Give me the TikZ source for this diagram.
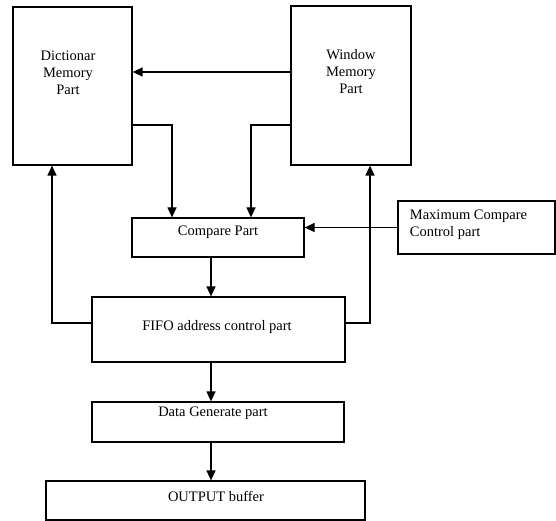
\documentclass[tikz,border=0pt]{standalone}
\usepackage{fontspec}
\setmainfont{Liberation Serif}
\usepackage{tikz}
\usetikzlibrary{arrows.meta, positioning, calc}
\tikzset{
  lbl/.style={font=\fontsize{14.5}{17}\selectfont, align=center, inner sep=0pt},
  blk/.style={draw, line width=1.2pt, rectangle, inner sep=0pt, minimum width=#1},
  flow/.style={-{Triangle[length=10pt, width=9pt]}, line width=1.2pt},
}
\begin{document}
\begin{tikzpicture}[x=1pt, y=-1pt]
  \useasboundingbox (0,0) rectangle (556,521);
  % memory blocks
  \node[blk=119pt, minimum height=158pt, label={[lbl, xshift=-4.5pt, yshift=13pt]center:{Dictionar\\Memory\\Part}}] (dict) at (72.5,86) {};
  \node[blk=120pt, minimum height=159pt, label={[lbl, yshift=13.5pt]center:{Window\\Memory\\Part}}] (win) at (351,85.5) {};
  % compare stage
  \node[blk=172pt, minimum height=39pt, label={[lbl, yshift=5.5pt]center:Compare Part}] (cmp) at (218,237.5) {};
  \node[blk=157pt, minimum height=53pt, label={[lbl, align=left, xshift=-8pt, yshift=3pt]center:{Maximum Compare\\Control part}}] (maxc) at (476.5,227.5) {};
  % output chain
  \node[blk=253pt, minimum height=65pt, label={[lbl, xshift=-1.5pt, yshift=2.5pt]center:FIFO address control part}] (fifo) at (218.5,329.5) {};
  \node[blk=252pt, minimum height=40pt, label={[lbl, xshift=-5pt, yshift=9pt]center:Data Generate part}] (dgen) at (218,422) {};
  \node[blk=319pt, minimum height=39pt, label={[lbl, xshift=10.5pt, yshift=4.5pt]center:OUTPUT buffer}] (obuf) at (205.5,500.5) {};
  % connectors
  \draw[flow] ([yshift=13.5pt]win.west) -- ([yshift=13.5pt]win.west -| dict.east);
  \draw[flow] ([yshift=-39pt]dict.east) -| ([xshift=-46pt]cmp.north);
  \draw[flow] ([yshift=-39.5pt]win.west) -| ([xshift=33pt]cmp.north);
  \draw[flow] (maxc.west) -- (maxc.west -| cmp.east);
  \draw[flow] ([xshift=-7pt]cmp.south) -- ([xshift=-7pt]cmp.south |- fifo.north);
  \draw[flow] ([yshift=6.5pt]fifo.west) -| ([xshift=-20.5pt]dict.south);
  \draw[flow] ([yshift=6.5pt]fifo.east) -| ([xshift=19pt]win.south);
  \draw[flow] ([xshift=-7.5pt]fifo.south) -- ([xshift=-7.5pt]fifo.south |- dgen.north);
  \draw[flow] ([xshift=-7pt]dgen.south) -- ([xshift=-7pt]dgen.south |- obuf.north);
\end{tikzpicture}
\end{document}
